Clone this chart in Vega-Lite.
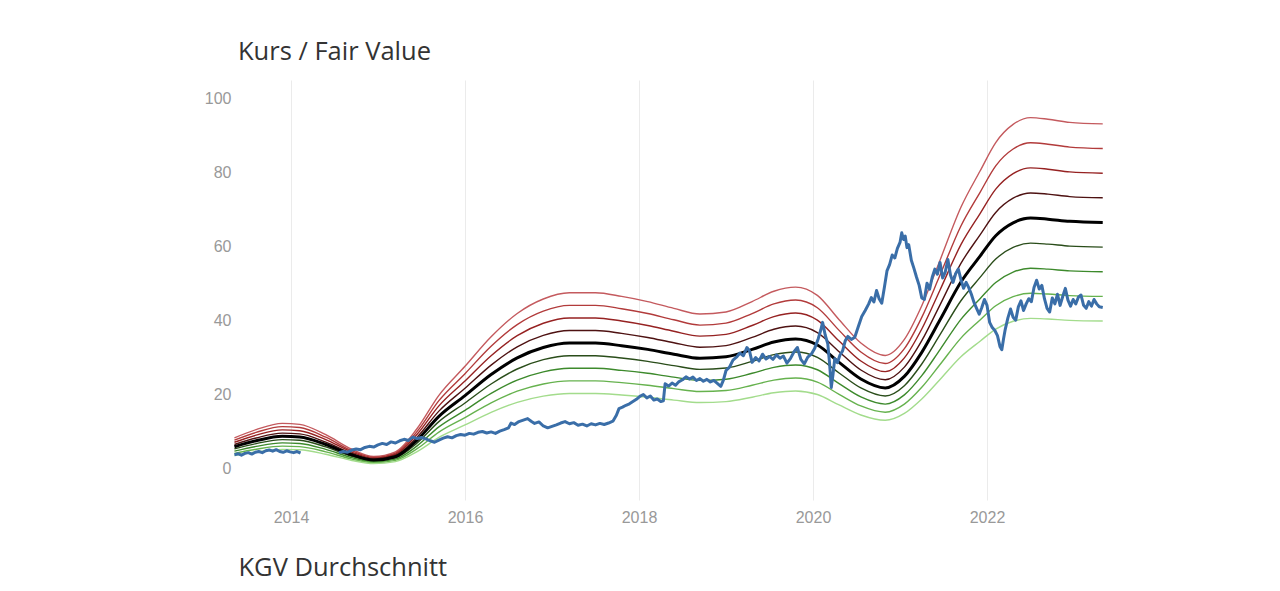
{
  "$schema": "https://vega.github.io/schema/vega-lite/v6.json",
  "autosize": {"type": "none"},
  "width": 869,
  "height": 420,
  "padding": {"left": 234, "top": 80, "right": 177, "bottom": 91},
  "background": "white",
  "title": {"text": "Kurs / Fair Value", "anchor": "start", "frame": "group", "font": "Open Sans", "fontSize": 25.5, "fontWeight": "normal", "color": "#333333", "baseline": "alphabetic", "offset": -5, "dx": 4},
  "datasets": {
    "fv": [
      {"t": 2013.35, "g4": 3.6, "g3": 4.2, "g2": 4.8, "g1": 5.4, "fv": 6.0, "r1": 6.6, "r2": 7.2, "r3": 7.8, "r4": 8.4},
      {"t": 2013.6, "g4": 4.56, "g3": 5.32, "g2": 6.08, "g1": 6.84, "fv": 7.6, "r1": 8.36, "r2": 9.12, "r3": 9.88, "r4": 10.64},
      {"t": 2013.9, "g4": 5.28, "g3": 6.16, "g2": 7.04, "g1": 7.92, "fv": 8.8, "r1": 9.68, "r2": 10.56, "r3": 11.44, "r4": 12.32},
      {"t": 2014.1, "g4": 5.16, "g3": 6.02, "g2": 6.88, "g1": 7.74, "fv": 8.6, "r1": 9.46, "r2": 10.32, "r3": 11.18, "r4": 12.04},
      {"t": 2014.4, "g4": 3.96, "g3": 4.62, "g2": 5.28, "g1": 5.94, "fv": 6.6, "r1": 7.26, "r2": 7.92, "r3": 8.58, "r4": 9.24},
      {"t": 2014.7, "g4": 2.28, "g3": 2.66, "g2": 3.04, "g1": 3.42, "fv": 3.8, "r1": 4.18, "r2": 4.56, "r3": 4.94, "r4": 5.32},
      {"t": 2014.95, "g4": 1.44, "g3": 1.68, "g2": 1.92, "g1": 2.16, "fv": 2.4, "r1": 2.64, "r2": 2.88, "r3": 3.12, "r4": 3.36},
      {"t": 2015.2, "g4": 1.98, "g3": 2.31, "g2": 2.64, "g1": 2.97, "fv": 3.3, "r1": 3.63, "r2": 3.96, "r3": 4.29, "r4": 4.62},
      {"t": 2015.45, "g4": 4.68, "g3": 5.46, "g2": 6.24, "g1": 7.02, "fv": 7.8, "r1": 8.58, "r2": 9.36, "r3": 10.14, "r4": 10.92},
      {"t": 2015.7, "g4": 8.52, "g3": 9.94, "g2": 11.36, "g1": 12.78, "fv": 14.2, "r1": 15.62, "r2": 17.04, "r3": 18.46, "r4": 19.88},
      {"t": 2016.0, "g4": 11.88, "g3": 13.86, "g2": 15.84, "g1": 17.82, "fv": 19.8, "r1": 21.78, "r2": 23.76, "r3": 25.74, "r4": 27.72},
      {"t": 2016.3, "g4": 15.3, "g3": 17.85, "g2": 20.4, "g1": 22.95, "fv": 25.5, "r1": 28.05, "r2": 30.6, "r3": 33.15, "r4": 35.7},
      {"t": 2016.6, "g4": 18.0, "g3": 21.0, "g2": 24.0, "g1": 27.0, "fv": 30.0, "r1": 33.0, "r2": 36.0, "r3": 39.0, "r4": 42.0},
      {"t": 2016.9, "g4": 19.68, "g3": 22.96, "g2": 26.24, "g1": 29.52, "fv": 32.8, "r1": 36.08, "r2": 39.36, "r3": 42.64, "r4": 45.92},
      {"t": 2017.2, "g4": 20.4, "g3": 23.8, "g2": 27.2, "g1": 30.6, "fv": 34.0, "r1": 37.4, "r2": 40.8, "r3": 44.2, "r4": 47.6},
      {"t": 2017.5, "g4": 20.4, "g3": 23.8, "g2": 27.2, "g1": 30.6, "fv": 34.0, "r1": 37.4, "r2": 40.8, "r3": 44.2, "r4": 47.6},
      {"t": 2017.8, "g4": 19.98, "g3": 23.31, "g2": 26.64, "g1": 29.97, "fv": 33.3, "r1": 36.63, "r2": 39.96, "r3": 43.29, "r4": 46.62},
      {"t": 2018.1, "g4": 19.38, "g3": 22.61, "g2": 25.84, "g1": 29.07, "fv": 32.3, "r1": 35.53, "r2": 38.76, "r3": 41.99, "r4": 45.22},
      {"t": 2018.4, "g4": 18.6, "g3": 21.7, "g2": 24.8, "g1": 27.9, "fv": 31.0, "r1": 34.1, "r2": 37.2, "r3": 40.3, "r4": 43.4},
      {"t": 2018.7, "g4": 17.94, "g3": 20.93, "g2": 23.92, "g1": 26.91, "fv": 29.9, "r1": 32.89, "r2": 35.88, "r3": 38.87, "r4": 41.86},
      {"t": 2019.0, "g4": 18.18, "g3": 21.21, "g2": 24.24, "g1": 27.27, "fv": 30.3, "r1": 33.33, "r2": 36.36, "r3": 39.39, "r4": 42.42},
      {"t": 2019.3, "g4": 19.38, "g3": 22.61, "g2": 25.84, "g1": 29.07, "fv": 32.3, "r1": 35.53, "r2": 38.76, "r3": 41.99, "r4": 45.22},
      {"t": 2019.55, "g4": 20.58, "g3": 24.01, "g2": 27.44, "g1": 30.87, "fv": 34.3, "r1": 37.73, "r2": 41.16, "r3": 44.59, "r4": 48.02},
      {"t": 2019.8, "g4": 21.06, "g3": 24.57, "g2": 28.08, "g1": 31.59, "fv": 35.1, "r1": 38.61, "r2": 42.12, "r3": 45.63, "r4": 49.14},
      {"t": 2020.05, "g4": 20.1, "g3": 23.45, "g2": 26.8, "g1": 30.15, "fv": 33.5, "r1": 36.85, "r2": 40.2, "r3": 43.55, "r4": 46.9},
      {"t": 2020.3, "g4": 17.28, "g3": 20.16, "g2": 23.04, "g1": 25.92, "fv": 28.8, "r1": 31.68, "r2": 34.56, "r3": 37.44, "r4": 40.32},
      {"t": 2020.55, "g4": 14.58, "g3": 17.01, "g2": 19.44, "g1": 21.87, "fv": 24.3, "r1": 26.73, "r2": 29.16, "r3": 31.59, "r4": 34.02},
      {"t": 2020.83, "g4": 13.14, "g3": 15.33, "g2": 17.52, "g1": 19.71, "fv": 21.9, "r1": 24.09, "r2": 26.28, "r3": 28.47, "r4": 30.66},
      {"t": 2021.05, "g4": 15.0, "g3": 17.5, "g2": 20.0, "g1": 22.5, "fv": 25.0, "r1": 27.5, "r2": 30.0, "r3": 32.5, "r4": 35.0},
      {"t": 2021.25, "g4": 18.9, "g3": 22.05, "g2": 25.2, "g1": 28.35, "fv": 31.5, "r1": 34.65, "r2": 37.8, "r3": 40.95, "r4": 44.1},
      {"t": 2021.46, "g4": 24.18, "g3": 28.21, "g2": 32.24, "g1": 36.27, "fv": 40.3, "r1": 44.33, "r2": 48.36, "r3": 52.39, "r4": 56.42},
      {"t": 2021.7, "g4": 30.3, "g3": 35.35, "g2": 40.4, "g1": 45.45, "fv": 50.5, "r1": 55.55, "r2": 60.6, "r3": 65.65, "r4": 70.7},
      {"t": 2021.92, "g4": 34.5, "g3": 40.25, "g2": 46.0, "g1": 51.75, "fv": 57.5, "r1": 63.25, "r2": 69.0, "r3": 74.75, "r4": 80.5},
      {"t": 2022.1, "g4": 37.8, "g3": 44.1, "g2": 50.4, "g1": 56.7, "fv": 63.0, "r1": 69.3, "r2": 75.6, "r3": 81.9, "r4": 88.2},
      {"t": 2022.3, "g4": 39.9, "g3": 46.55, "g2": 53.2, "g1": 59.85, "fv": 66.5, "r1": 73.15, "r2": 79.8, "r3": 86.45, "r4": 93.1},
      {"t": 2022.5, "g4": 40.68, "g3": 47.46, "g2": 54.24, "g1": 61.02, "fv": 67.8, "r1": 74.58, "r2": 81.36, "r3": 88.14, "r4": 94.92},
      {"t": 2022.7, "g4": 40.5, "g3": 47.25, "g2": 54.0, "g1": 60.75, "fv": 67.5, "r1": 74.25, "r2": 81.0, "r3": 87.75, "r4": 94.5},
      {"t": 2022.95, "g4": 40.14, "g3": 46.83, "g2": 53.52, "g1": 60.21, "fv": 66.9, "r1": 73.59, "r2": 80.28, "r3": 86.97, "r4": 93.66},
      {"t": 2023.33, "g4": 39.96, "g3": 46.62, "g2": 53.28, "g1": 59.94, "fv": 66.6, "r1": 73.26, "r2": 79.92, "r3": 86.58, "r4": 93.24}
    ],
    "kurs": [
      {"s": 1, "t": 2013.35, "v": 3.8}, {"s": 1, "t": 2013.39, "v": 4.1}, {"s": 1, "t": 2013.43, "v": 3.7}, {"s": 1, "t": 2013.47, "v": 4.2},
      {"s": 1, "t": 2013.51, "v": 4.4}, {"s": 1, "t": 2013.55, "v": 4.0}, {"s": 1, "t": 2013.59, "v": 4.5}, {"s": 1, "t": 2013.63, "v": 4.7},
      {"s": 1, "t": 2013.67, "v": 4.4}, {"s": 1, "t": 2013.71, "v": 4.9}, {"s": 1, "t": 2013.75, "v": 5.1}, {"s": 1, "t": 2013.79, "v": 4.8},
      {"s": 1, "t": 2013.83, "v": 5.2}, {"s": 1, "t": 2013.87, "v": 4.7}, {"s": 1, "t": 2013.91, "v": 4.5}, {"s": 1, "t": 2013.95, "v": 4.9},
      {"s": 1, "t": 2013.99, "v": 4.6}, {"s": 1, "t": 2014.03, "v": 4.4}, {"s": 1, "t": 2014.07, "v": 4.7}, {"s": 1, "t": 2014.11, "v": 4.3},
      {"s": 2, "t": 2014.55, "v": 4.4}, {"s": 2, "t": 2014.6, "v": 4.7}, {"s": 2, "t": 2014.65, "v": 4.5}, {"s": 2, "t": 2014.7, "v": 5.1},
      {"s": 2, "t": 2014.75, "v": 5.4}, {"s": 2, "t": 2014.8, "v": 5.2}, {"s": 2, "t": 2014.85, "v": 5.8}, {"s": 2, "t": 2014.9, "v": 6.1},
      {"s": 2, "t": 2014.95, "v": 5.9}, {"s": 2, "t": 2015.0, "v": 6.5}, {"s": 2, "t": 2015.05, "v": 6.9}, {"s": 2, "t": 2015.1, "v": 6.6},
      {"s": 2, "t": 2015.15, "v": 7.3}, {"s": 2, "t": 2015.2, "v": 7.0}, {"s": 2, "t": 2015.25, "v": 7.6}, {"s": 2, "t": 2015.3, "v": 8.0},
      {"s": 2, "t": 2015.35, "v": 7.7}, {"s": 2, "t": 2015.4, "v": 8.6}, {"s": 2, "t": 2015.45, "v": 8.2}, {"s": 2, "t": 2015.5, "v": 8.5},
      {"s": 2, "t": 2015.55, "v": 8.1}, {"s": 2, "t": 2015.6, "v": 7.6}, {"s": 2, "t": 2015.65, "v": 7.2}, {"s": 2, "t": 2015.7, "v": 7.8},
      {"s": 2, "t": 2015.75, "v": 8.3}, {"s": 2, "t": 2015.8, "v": 8.7}, {"s": 2, "t": 2015.85, "v": 8.4}, {"s": 2, "t": 2015.9, "v": 9.0},
      {"s": 2, "t": 2015.95, "v": 9.3}, {"s": 2, "t": 2016.0, "v": 9.1}, {"s": 2, "t": 2016.05, "v": 9.6}, {"s": 2, "t": 2016.1, "v": 9.4},
      {"s": 2, "t": 2016.15, "v": 9.9}, {"s": 2, "t": 2016.2, "v": 10.1}, {"s": 2, "t": 2016.25, "v": 9.7}, {"s": 2, "t": 2016.3, "v": 10.0},
      {"s": 2, "t": 2016.35, "v": 9.6}, {"s": 2, "t": 2016.4, "v": 10.2}, {"s": 2, "t": 2016.45, "v": 10.6}, {"s": 2, "t": 2016.5, "v": 11.1},
      {"s": 2, "t": 2016.53, "v": 12.4}, {"s": 2, "t": 2016.57, "v": 12.0}, {"s": 2, "t": 2016.62, "v": 12.8}, {"s": 2, "t": 2016.67, "v": 13.2},
      {"s": 2, "t": 2016.72, "v": 13.6}, {"s": 2, "t": 2016.76, "v": 12.9}, {"s": 2, "t": 2016.8, "v": 12.3}, {"s": 2, "t": 2016.85, "v": 12.7},
      {"s": 2, "t": 2016.9, "v": 11.6}, {"s": 2, "t": 2016.95, "v": 11.1}, {"s": 2, "t": 2017.0, "v": 11.5}, {"s": 2, "t": 2017.05, "v": 11.9},
      {"s": 2, "t": 2017.1, "v": 12.4}, {"s": 2, "t": 2017.15, "v": 12.8}, {"s": 2, "t": 2017.2, "v": 12.2}, {"s": 2, "t": 2017.25, "v": 12.5},
      {"s": 2, "t": 2017.3, "v": 11.8}, {"s": 2, "t": 2017.35, "v": 12.1}, {"s": 2, "t": 2017.4, "v": 11.6}, {"s": 2, "t": 2017.45, "v": 12.2},
      {"s": 2, "t": 2017.5, "v": 11.9}, {"s": 2, "t": 2017.55, "v": 12.3}, {"s": 2, "t": 2017.6, "v": 12.0}, {"s": 2, "t": 2017.65, "v": 12.4},
      {"s": 2, "t": 2017.7, "v": 12.9}, {"s": 2, "t": 2017.74, "v": 14.5}, {"s": 2, "t": 2017.77, "v": 16.3}, {"s": 2, "t": 2017.81, "v": 16.7},
      {"s": 2, "t": 2017.85, "v": 17.2}, {"s": 2, "t": 2017.89, "v": 17.6}, {"s": 2, "t": 2017.93, "v": 18.2}, {"s": 2, "t": 2017.97, "v": 18.8},
      {"s": 2, "t": 2018.01, "v": 19.6}, {"s": 2, "t": 2018.05, "v": 20.1}, {"s": 2, "t": 2018.09, "v": 19.2}, {"s": 2, "t": 2018.13, "v": 19.7},
      {"s": 2, "t": 2018.17, "v": 18.6}, {"s": 2, "t": 2018.21, "v": 18.9}, {"s": 2, "t": 2018.25, "v": 18.2}, {"s": 2, "t": 2018.28, "v": 18.4},
      {"s": 2, "t": 2018.3, "v": 23.0}, {"s": 2, "t": 2018.34, "v": 22.4}, {"s": 2, "t": 2018.38, "v": 23.2}, {"s": 2, "t": 2018.42, "v": 22.6},
      {"s": 2, "t": 2018.46, "v": 23.6}, {"s": 2, "t": 2018.5, "v": 24.1}, {"s": 2, "t": 2018.54, "v": 24.9}, {"s": 2, "t": 2018.58, "v": 24.3},
      {"s": 2, "t": 2018.62, "v": 24.8}, {"s": 2, "t": 2018.66, "v": 23.9}, {"s": 2, "t": 2018.7, "v": 24.4}, {"s": 2, "t": 2018.74, "v": 23.7},
      {"s": 2, "t": 2018.78, "v": 24.2}, {"s": 2, "t": 2018.82, "v": 23.5}, {"s": 2, "t": 2018.86, "v": 23.9}, {"s": 2, "t": 2018.9, "v": 23.1},
      {"s": 2, "t": 2018.94, "v": 22.3}, {"s": 2, "t": 2018.97, "v": 24.0}, {"s": 2, "t": 2019.0, "v": 26.6}, {"s": 2, "t": 2019.04, "v": 27.5},
      {"s": 2, "t": 2019.08, "v": 29.4}, {"s": 2, "t": 2019.12, "v": 30.2}, {"s": 2, "t": 2019.16, "v": 31.3}, {"s": 2, "t": 2019.2, "v": 30.6},
      {"s": 2, "t": 2019.24, "v": 32.8}, {"s": 2, "t": 2019.27, "v": 31.9}, {"s": 2, "t": 2019.3, "v": 28.8}, {"s": 2, "t": 2019.34, "v": 30.1},
      {"s": 2, "t": 2019.38, "v": 29.2}, {"s": 2, "t": 2019.42, "v": 31.0}, {"s": 2, "t": 2019.46, "v": 29.7}, {"s": 2, "t": 2019.5, "v": 30.4},
      {"s": 2, "t": 2019.54, "v": 29.6}, {"s": 2, "t": 2019.58, "v": 30.8}, {"s": 2, "t": 2019.62, "v": 29.9}, {"s": 2, "t": 2019.66, "v": 30.5},
      {"s": 2, "t": 2019.7, "v": 28.6}, {"s": 2, "t": 2019.74, "v": 29.8}, {"s": 2, "t": 2019.78, "v": 31.6}, {"s": 2, "t": 2019.82, "v": 32.8},
      {"s": 2, "t": 2019.86, "v": 29.6}, {"s": 2, "t": 2019.9, "v": 28.4}, {"s": 2, "t": 2019.94, "v": 30.2}, {"s": 2, "t": 2019.98, "v": 31.0},
      {"s": 2, "t": 2020.02, "v": 32.6}, {"s": 2, "t": 2020.06, "v": 35.2}, {"s": 2, "t": 2020.09, "v": 37.6}, {"s": 2, "t": 2020.11, "v": 39.6},
      {"s": 2, "t": 2020.14, "v": 36.2}, {"s": 2, "t": 2020.17, "v": 33.8}, {"s": 2, "t": 2020.19, "v": 28.6}, {"s": 2, "t": 2020.21, "v": 22.0},
      {"s": 2, "t": 2020.23, "v": 25.6}, {"s": 2, "t": 2020.25, "v": 29.8}, {"s": 2, "t": 2020.28, "v": 28.7}, {"s": 2, "t": 2020.31, "v": 30.8},
      {"s": 2, "t": 2020.34, "v": 31.9}, {"s": 2, "t": 2020.37, "v": 34.6}, {"s": 2, "t": 2020.4, "v": 35.8}, {"s": 2, "t": 2020.44, "v": 35.0},
      {"s": 2, "t": 2020.48, "v": 35.6}, {"s": 2, "t": 2020.52, "v": 38.4}, {"s": 2, "t": 2020.56, "v": 41.2}, {"s": 2, "t": 2020.6, "v": 42.8},
      {"s": 2, "t": 2020.64, "v": 44.6}, {"s": 2, "t": 2020.67, "v": 46.3}, {"s": 2, "t": 2020.7, "v": 45.1}, {"s": 2, "t": 2020.73, "v": 48.2},
      {"s": 2, "t": 2020.76, "v": 46.0}, {"s": 2, "t": 2020.79, "v": 44.8}, {"s": 2, "t": 2020.82, "v": 49.0}, {"s": 2, "t": 2020.85, "v": 53.5},
      {"s": 2, "t": 2020.88, "v": 55.2}, {"s": 2, "t": 2020.91, "v": 57.8}, {"s": 2, "t": 2020.94, "v": 57.0}, {"s": 2, "t": 2020.97, "v": 59.6},
      {"s": 2, "t": 2021.0, "v": 61.2}, {"s": 2, "t": 2021.02, "v": 63.8}, {"s": 2, "t": 2021.04, "v": 62.0}, {"s": 2, "t": 2021.06, "v": 62.9},
      {"s": 2, "t": 2021.08, "v": 59.8}, {"s": 2, "t": 2021.1, "v": 60.6}, {"s": 2, "t": 2021.13, "v": 56.4}, {"s": 2, "t": 2021.16, "v": 54.2},
      {"s": 2, "t": 2021.19, "v": 51.8}, {"s": 2, "t": 2021.22, "v": 49.6}, {"s": 2, "t": 2021.25, "v": 46.2}, {"s": 2, "t": 2021.28, "v": 45.8},
      {"s": 2, "t": 2021.31, "v": 50.2}, {"s": 2, "t": 2021.34, "v": 48.6}, {"s": 2, "t": 2021.37, "v": 51.8}, {"s": 2, "t": 2021.4, "v": 54.0},
      {"s": 2, "t": 2021.43, "v": 52.6}, {"s": 2, "t": 2021.46, "v": 55.8}, {"s": 2, "t": 2021.49, "v": 51.6}, {"s": 2, "t": 2021.52, "v": 53.2},
      {"s": 2, "t": 2021.55, "v": 56.6}, {"s": 2, "t": 2021.58, "v": 52.4}, {"s": 2, "t": 2021.61, "v": 50.4}, {"s": 2, "t": 2021.64, "v": 52.8},
      {"s": 2, "t": 2021.67, "v": 54.0}, {"s": 2, "t": 2021.7, "v": 51.2}, {"s": 2, "t": 2021.73, "v": 48.8}, {"s": 2, "t": 2021.76, "v": 50.4},
      {"s": 2, "t": 2021.79, "v": 49.0}, {"s": 2, "t": 2021.82, "v": 47.2}, {"s": 2, "t": 2021.85, "v": 45.0}, {"s": 2, "t": 2021.88, "v": 43.4},
      {"s": 2, "t": 2021.91, "v": 41.8}, {"s": 2, "t": 2021.94, "v": 43.6}, {"s": 2, "t": 2021.97, "v": 45.8}, {"s": 2, "t": 2022.0, "v": 44.2},
      {"s": 2, "t": 2022.03, "v": 39.6}, {"s": 2, "t": 2022.06, "v": 38.2}, {"s": 2, "t": 2022.09, "v": 37.4}, {"s": 2, "t": 2022.12, "v": 36.0},
      {"s": 2, "t": 2022.15, "v": 33.0}, {"s": 2, "t": 2022.17, "v": 32.2}, {"s": 2, "t": 2022.19, "v": 35.2}, {"s": 2, "t": 2022.21, "v": 37.8},
      {"s": 2, "t": 2022.24, "v": 40.8}, {"s": 2, "t": 2022.27, "v": 43.2}, {"s": 2, "t": 2022.3, "v": 41.0}, {"s": 2, "t": 2022.33, "v": 40.2},
      {"s": 2, "t": 2022.36, "v": 43.8}, {"s": 2, "t": 2022.39, "v": 45.4}, {"s": 2, "t": 2022.42, "v": 42.8}, {"s": 2, "t": 2022.45, "v": 44.6},
      {"s": 2, "t": 2022.48, "v": 46.0}, {"s": 2, "t": 2022.51, "v": 45.2}, {"s": 2, "t": 2022.54, "v": 49.0}, {"s": 2, "t": 2022.57, "v": 51.0},
      {"s": 2, "t": 2022.6, "v": 48.6}, {"s": 2, "t": 2022.63, "v": 49.6}, {"s": 2, "t": 2022.66, "v": 46.0}, {"s": 2, "t": 2022.69, "v": 43.4},
      {"s": 2, "t": 2022.72, "v": 42.4}, {"s": 2, "t": 2022.75, "v": 46.2}, {"s": 2, "t": 2022.78, "v": 44.6}, {"s": 2, "t": 2022.81, "v": 47.2},
      {"s": 2, "t": 2022.84, "v": 44.2}, {"s": 2, "t": 2022.87, "v": 46.6}, {"s": 2, "t": 2022.9, "v": 48.8}, {"s": 2, "t": 2022.93, "v": 45.6},
      {"s": 2, "t": 2022.96, "v": 44.0}, {"s": 2, "t": 2022.99, "v": 45.8}, {"s": 2, "t": 2023.02, "v": 44.6}, {"s": 2, "t": 2023.05, "v": 46.4},
      {"s": 2, "t": 2023.08, "v": 47.0}, {"s": 2, "t": 2023.11, "v": 44.2}, {"s": 2, "t": 2023.14, "v": 43.4}, {"s": 2, "t": 2023.17, "v": 45.2},
      {"s": 2, "t": 2023.2, "v": 44.0}, {"s": 2, "t": 2023.23, "v": 45.8}, {"s": 2, "t": 2023.26, "v": 44.6}, {"s": 2, "t": 2023.29, "v": 43.8},
      {"s": 2, "t": 2023.33, "v": 43.6}
    ]
  },
  "config": {
    "view": {"stroke": null},
    "axis": {"labelFont": "Liberation Sans", "labelFontSize": 16, "labelColor": "#999999", "gridColor": "#ebebeb", "gridWidth": 1, "domain": false, "ticks": false}
  },
  "encoding": {
    "x": {"field": "t", "type": "quantitative", "scale": {"domain": [2013.345, 2023.333], "nice": false, "zero": false},
      "axis": {"values": [2014, 2016, 2018, 2020, 2022], "format": "d", "labelPadding": 9, "title": "KGV Durchschnitt", "titleFont": "Open Sans", "titleFontSize": 25.5, "titleFontWeight": "normal", "titleColor": "#333333", "titleAnchor": "start", "titleAlign": "left", "titleBaseline": "alphabetic", "titleX": 4, "titleY": 75}},
    "y": {"type": "quantitative", "scale": {"domain": [-8.4, 105.1], "nice": false, "zero": false},
      "axis": {"values": [0, 20, 40, 60, 80, 100], "labelPadding": 3, "title": null}}
  },
  "layer": [
    {"mark": {"type": "rule", "color": "#444444", "strokeWidth": 1.5}, "encoding": {"y": {"datum": 0}, "x": null}},
    {"data": {"name": "fv"},
      "transform": [{"fold": ["r4", "r3", "r2", "r1", "g1", "g2", "g3", "g4"], "as": ["band", "val"]}],
      "mark": {"type": "line", "strokeWidth": 1.4, "interpolate": "monotone"},
      "encoding": {"y": {"field": "val", "type": "quantitative"},
        "color": {"field": "band", "type": "nominal", "legend": null,
          "scale": {"domain": ["r4", "r3", "r2", "r1", "g1", "g2", "g3", "g4"], "range": ["#c45a5e", "#b23b3b", "#962222", "#4e1212", "#2a4d1a", "#3d8a2c", "#66b24e", "#a3dc8c"]}}}},
    {"data": {"name": "fv"},
      "mark": {"type": "line", "strokeWidth": 3, "color": "#000000", "interpolate": "monotone"},
      "encoding": {"y": {"field": "fv", "type": "quantitative"}}},
    {"data": {"name": "kurs"},
      "mark": {"type": "line", "strokeWidth": 3, "color": "#3a6ea8", "strokeJoin": "round"},
      "encoding": {"y": {"field": "v", "type": "quantitative"}, "detail": {"field": "s", "type": "nominal"}}}
  ]
}
